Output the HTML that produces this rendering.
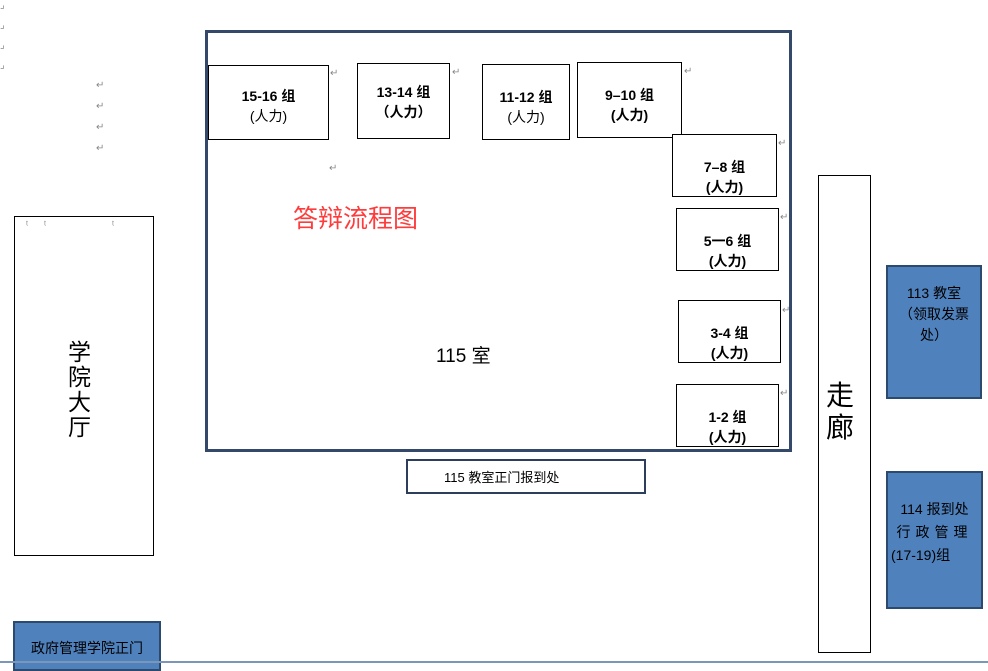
<!DOCTYPE html>
<html><head><meta charset="utf-8"><style>
body{margin:0;width:988px;height:664px;position:relative;overflow:hidden;background:#fff;font-family:"Liberation Sans","Noto Sans CJK SC",sans-serif;}
.a{position:absolute;box-sizing:border-box;}
.b{position:absolute;box-sizing:border-box;border:1.5px solid #000;background:#fff;text-align:center;font-size:14px;font-weight:bold;line-height:20px;}
.r{position:absolute;color:#888;font-size:10px;font-weight:normal;}
.blue{position:absolute;box-sizing:border-box;background:#4f81bd;border:2.5px solid #2c4a6e;text-align:center;font-size:14px;color:#000;}
</style></head><body>
<div class="a" style="left:205px;top:30px;width:587px;height:422px;border:3px solid #34496a;"></div>
<div class="b" style="left:208px;top:65px;width:121px;height:75px;padding-top:20px;">15-16 组<br><span style="font-weight:normal">(人力)</span></div>
<div class="b" style="left:357px;top:63px;width:93px;height:76px;padding-top:18px;">13-14 组<br>（人力）</div>
<div class="b" style="left:482px;top:64px;width:88px;height:76px;padding-top:22px;">11-12 组<br><span style="font-weight:normal">(人力)</span></div>
<div class="b" style="left:577px;top:62px;width:105px;height:76px;padding-top:22px;">9–10 组<br>(人力)</div>
<div class="b" style="left:672px;top:134px;width:105px;height:63px;padding-top:22px;">7–8 组<br>(人力)</div>
<div class="b" style="left:676px;top:208px;width:103px;height:63px;padding-top:22px;">5一6 组<br>(人力)</div>
<div class="b" style="left:678px;top:300px;width:103px;height:63px;padding-top:22px;">3-4 组<br>(人力)</div>
<div class="b" style="left:676px;top:384px;width:103px;height:63px;padding-top:22px;">1-2 组<br>(人力)</div>
<div class="a" style="left:293px;top:199px;color:#ff3b3b;font-size:25px;">答辩流程图</div>
<div class="a" style="left:436px;top:341px;font-size:19px;">115 室</div>
<div class="a" style="left:406px;top:459px;width:240px;height:35px;border:2.5px solid #2c3e5c;font-size:13px;padding:6px 0 0 36px;">115 教室正门报到处</div>
<div class="a" style="left:14px;top:216px;width:140px;height:340px;border:1.5px solid #000;"></div>
<div class="a" style="left:68px;top:340px;width:26px;font-size:23px;line-height:25px;">学院大厅</div>
<div class="a" style="left:818px;top:175px;width:53px;height:478px;border:1.5px solid #000;"></div>
<div class="a" style="left:826px;top:380px;width:30px;font-size:28px;line-height:32px;">走廊</div>
<div class="blue" style="left:886px;top:265px;width:96px;height:134px;padding:16px 4px 0;line-height:21px;">113 教室<br>（领取发票<br>处）</div>
<div class="blue" style="left:886px;top:471px;width:97px;height:138px;padding:25px 3px 0;line-height:23px;">114 报到处<br><span style="letter-spacing:5px">行政管理</span><br><span style="display:block;text-align:left">(17-19)组</span></div>
<div class="blue" style="left:13px;top:621px;width:148px;height:50px;padding-top:15px;font-size:14px;">政府管理学院正门</div>
<div class="a" style="left:0;top:661px;width:988px;height:2px;background:#7a96b8;"></div>
<div class="r" style="left:96px;top:80px;">↵</div><div class="r" style="left:96px;top:101px;">↵</div><div class="r" style="left:96px;top:122px;">↵</div><div class="r" style="left:96px;top:143px;">↵</div>
<div class="r" style="left:0;top:0px;">⌟</div><div class="r" style="left:0;top:20px;">⌟</div><div class="r" style="left:0;top:40px;">⌟</div><div class="r" style="left:0;top:60px;">⌟</div>
<div class="r" style="left:330px;top:68px;">↵</div><div class="r" style="left:452px;top:67px;">↵</div><div class="r" style="left:684px;top:66px;">↵</div><div class="r" style="left:329px;top:163px;">↵</div>
<div class="r" style="left:778px;top:138px;">↵</div><div class="r" style="left:780px;top:212px;">↵</div><div class="r" style="left:782px;top:305px;">↵</div><div class="r" style="left:780px;top:388px;">↵</div>
<div class="r" style="left:26px;top:220px;">ᵗ</div><div class="r" style="left:44px;top:220px;">ᵗ</div><div class="r" style="left:112px;top:220px;">ᵗ</div>
</body></html>
